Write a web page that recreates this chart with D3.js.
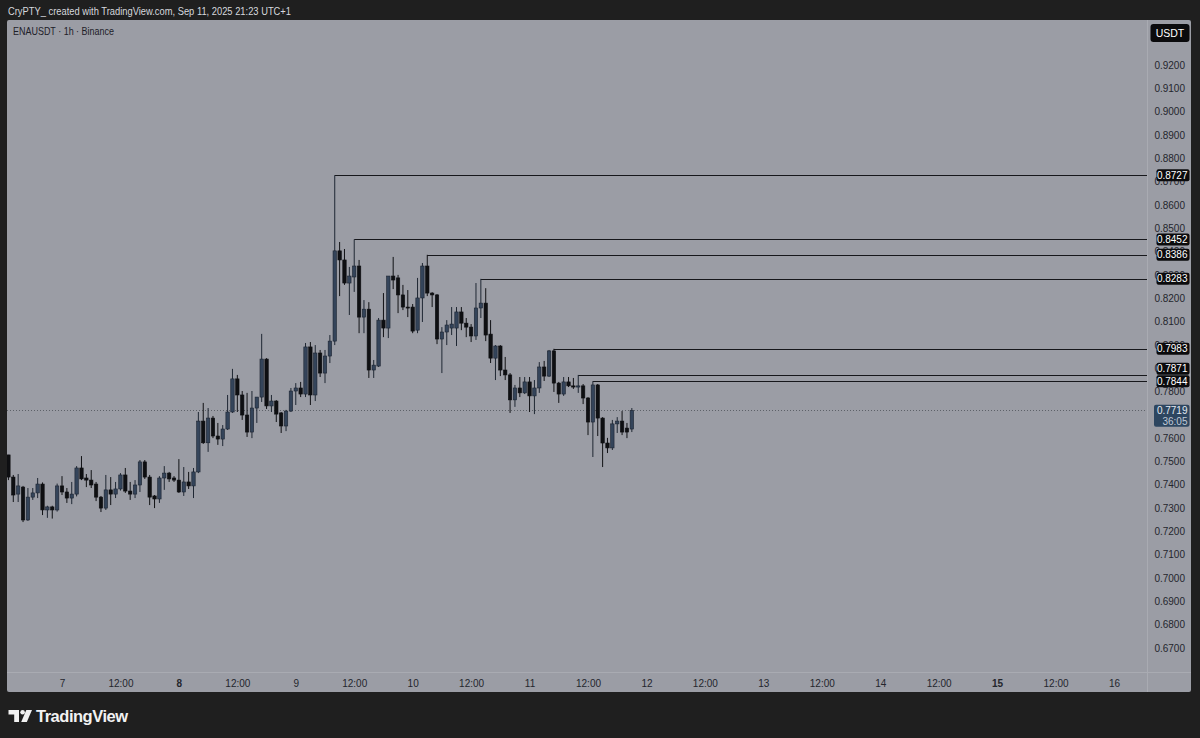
<!DOCTYPE html>
<html>
<head>
<meta charset="utf-8">
<script src="https://cdn.jsdelivr.net/npm/d3@7/dist/d3.min.js"></script>
<style>
  html, body { margin: 0; padding: 0; background: #1f1f1f; }
  svg { display: block; }
  text { font-family: "Liberation Sans", Arial, sans-serif; }
</style>
</head>
<body>
<svg id="chart" width="1200" height="738"></svg>
<script>
// ---------------- DATA ----------------
const symbolTitle = "ENAUSDT · 1h · Binance";
const headerText = "CryPTY_ created with TradingView.com, Sep 11, 2025 21:23 UTC+1";
const firstCandleUTC = Date.UTC(2025, 8, 6, 13); // Sep 6 13:00, hourly candles

const opens = [
0.7528,0.7433,0.7360,0.7390,0.7249,0.7347,0.7365,0.7403,0.7292,0.7305,
0.7292,0.7395,0.7369,0.7343,0.7360,0.7472,0.7429,0.7420,0.7403,0.7347,
0.7300,0.7378,0.7360,0.7382,0.7442,0.7373,0.7360,0.7399,0.7498,0.7433,
0.7352,0.7339,0.7429,0.7450,0.7429,0.7420,0.7369,0.7412,0.7395,0.7455,
0.7673,0.7580,0.7686,0.7609,0.7596,0.7639,0.7712,0.7854,0.7785,0.7699,
0.7626,0.7729,0.7776,0.7939,0.7738,0.7759,0.7708,0.7652,0.7716,0.7802,
0.7815,0.7789,0.7991,0.7785,0.7965,0.7879,0.7952,0.8016,0.8403,0.8364,
0.8265,0.8291,0.8338,0.8119,0.8153,0.7892,0.7909,0.8106,0.8072,0.8295,
0.8287,0.8214,0.8162,0.8162,0.8063,0.8201,0.8338,0.8222,0.8214,0.8025,
0.8055,0.8072,0.8072,0.8141,0.8093,0.8076,0.8038,0.8158,0.8179,0.8046,
0.7943,0.7995,0.7892,0.7871,0.7764,0.7815,0.7794,0.7841,0.7781,0.7815,
0.7905,0.7866,0.7974,0.7836,0.7789,0.7841,0.7824,0.7819,0.7824,0.7772,
0.7669,0.7828,0.7686,0.7579,0.7558,0.7661,0.7673,0.7643,0.7639];
const highs = [
0.7528,0.7442,0.7446,0.7395,0.7386,0.7386,0.7429,0.7410,0.7310,0.7310,
0.7405,0.7437,0.7386,0.7412,0.7480,0.7523,0.7446,0.7463,0.7412,0.7352,
0.7442,0.7433,0.7412,0.7450,0.7472,0.7412,0.7420,0.7506,0.7506,0.7442,
0.7356,0.7437,0.7480,0.7455,0.7437,0.7510,0.7476,0.7455,0.7472,0.7712,
0.7751,0.7729,0.7695,0.7665,0.7656,0.7785,0.7897,0.7871,0.7802,0.7794,
0.7802,0.7776,0.8047,0.7943,0.7785,0.7763,0.7712,0.7721,0.7815,0.7836,
0.7841,0.8008,0.8012,0.7999,0.7978,0.7978,0.8042,0.8727,0.8441,0.8411,
0.8334,0.8452,0.8364,0.8192,0.8183,0.7935,0.8115,0.8222,0.8295,0.8377,
0.8300,0.8257,0.8235,0.8175,0.8287,0.8351,0.8386,0.8226,0.8218,0.8076,
0.8106,0.8162,0.8162,0.8162,0.8115,0.8089,0.8265,0.8283,0.8243,0.8106,
0.7999,0.7999,0.7948,0.7879,0.7828,0.7862,0.7862,0.7862,0.7849,0.7926,
0.7931,0.7978,0.7983,0.7841,0.7862,0.7862,0.7858,0.7871,0.7832,0.7776,
0.7844,0.7832,0.7690,0.7601,0.7678,0.7690,0.7716,0.7665,0.7729];
const lows = [
0.7420,0.7326,0.7326,0.7240,0.7245,0.7335,0.7343,0.7270,0.7258,0.7255,
0.7285,0.7356,0.7322,0.7317,0.7350,0.7420,0.7390,0.7386,0.7330,0.7283,
0.7292,0.7313,0.7343,0.7375,0.7365,0.7335,0.7343,0.7369,0.7425,0.7313,
0.7300,0.7322,0.7378,0.7412,0.7412,0.7365,0.7352,0.7382,0.7343,0.7450,
0.7575,0.7541,0.7600,0.7571,0.7566,0.7635,0.7708,0.7712,0.7678,0.7605,
0.7600,0.7665,0.7755,0.7725,0.7712,0.7669,0.7622,0.7630,0.7712,0.7742,
0.7776,0.7776,0.7742,0.7759,0.7862,0.7836,0.7922,0.7999,0.8209,0.8257,
0.8128,0.8227,0.8050,0.8050,0.7858,0.7858,0.7905,0.8033,0.8029,0.8239,
0.8136,0.8149,0.8119,0.8050,0.8050,0.8098,0.8209,0.8162,0.8003,0.7879,
0.7999,0.8042,0.7995,0.8063,0.8033,0.8012,0.8021,0.8115,0.8016,0.7922,
0.7849,0.7866,0.7849,0.7708,0.7734,0.7776,0.7789,0.7712,0.7703,0.7794,
0.7845,0.7862,0.7798,0.7751,0.7781,0.7819,0.7811,0.7794,0.7746,0.7613,
0.7519,0.7609,0.7476,0.7536,0.7549,0.7622,0.7613,0.7600,0.7626];
const closes = [
0.7433,0.7356,0.7395,0.7249,0.7347,0.7365,0.7403,0.7292,0.7305,0.7292,
0.7395,0.7369,0.7343,0.7360,0.7472,0.7425,0.7420,0.7399,0.7347,0.7300,
0.7378,0.7360,0.7382,0.7442,0.7373,0.7360,0.7399,0.7498,0.7433,0.7347,
0.7339,0.7429,0.7450,0.7425,0.7420,0.7369,0.7412,0.7395,0.7455,0.7673,
0.7580,0.7686,0.7609,0.7596,0.7639,0.7712,0.7854,0.7785,0.7699,0.7626,
0.7729,0.7776,0.7939,0.7738,0.7759,0.7703,0.7652,0.7716,0.7802,0.7815,
0.7789,0.7991,0.7785,0.7965,0.7879,0.7952,0.8016,0.8403,0.8364,0.8265,
0.8295,0.8338,0.8119,0.8153,0.7892,0.7913,0.8106,0.8072,0.8295,0.8278,
0.8214,0.8162,0.8158,0.8059,0.8201,0.8338,0.8222,0.8214,0.8025,0.8055,
0.8085,0.8089,0.8141,0.8093,0.8076,0.8038,0.8158,0.8179,0.8042,0.7943,
0.7995,0.7892,0.7871,0.7764,0.7815,0.7794,0.7841,0.7781,0.7815,0.7905,
0.7866,0.7974,0.7836,0.7789,0.7841,0.7824,0.7819,0.7824,0.7772,0.7669,
0.7828,0.7686,0.7579,0.7558,0.7661,0.7673,0.7626,0.7626,0.7719];

// horizontal levels drawn from candle highs
const levelValues = [0.8727, 0.8452, 0.8386, 0.8283, 0.7983, 0.7871, 0.7844];
const levelCandleIndex = [67, 71, 86, 97, 112, 117, 120];

const lastPrice = 0.7719;
const countdown = "36:05";
const currency = "USDT";

const priceTicks = [0.67,0.68,0.69,0.70,0.71,0.72,0.73,0.74,0.75,0.76,0.77,0.78,0.79,
                    0.80,0.81,0.82,0.83,0.84,0.85,0.86,0.87,0.88,0.89,0.90,0.91,0.92];
const timeTickLabels = ["7","12:00","8","12:00","9","12:00","10","12:00","11","12:00",
                        "12","12:00","13","12:00","14","12:00","15","12:00","16"];
const boldTimeLabels = ["8","15"];

// ---------------- LAYOUT ----------------
const W = 1200, H = 738;
const panel = { x0: 7, x1: 1191, y0: 20, y1: 692 };
const plot = { x0: 7, x1: 1147, y0: 20, y1: 672 };
const narrow = "'Liberation Sans Narrow', 'Liberation Sans', Arial, sans-serif";

const svg = d3.select("#chart");

const x = d3.scaleUtc()
  .domain([new Date(Date.UTC(2025, 8, 7)), new Date(Date.UTC(2025, 8, 16))])
  .range([62, 1114]);
const y = d3.scaleLinear().domain([0.67, 0.92]).range([648, 65]);

// background
svg.append("rect").attr("width", W).attr("height", H).attr("fill", "#1f1f1f");
svg.append("rect")
  .attr("x", panel.x0).attr("y", panel.y0)
  .attr("width", panel.x1 - panel.x0).attr("height", panel.y1 - panel.y0)
  .attr("rx", 2).attr("fill", "#9b9da5");

// separators
svg.append("line").attr("x1", plot.x1 + 0.5).attr("x2", plot.x1 + 0.5)
  .attr("y1", panel.y0).attr("y2", panel.y1)
  .attr("stroke", "#a9abb2").attr("stroke-width", 1);
svg.append("line").attr("x1", panel.x0).attr("x2", panel.x1)
  .attr("y1", plot.y1 + 0.5).attr("y2", plot.y1 + 0.5)
  .attr("stroke", "#a9abb2").attr("stroke-width", 1);

// header
svg.append("text").attr("x", 8).attr("y", 14.5)
  .attr("fill", "#d6d8de").attr("font-size", 11.2).attr("font-family", narrow)
  .attr("textLength", 283).attr("lengthAdjust", "spacingAndGlyphs").text(headerText);
svg.append("text").attr("x", 13).attr("y", 35)
  .attr("fill", "#1e2028").attr("font-size", 10.8).attr("font-family", narrow)
  .attr("textLength", 101).attr("lengthAdjust", "spacingAndGlyphs").text(symbolTitle);

// clip
svg.append("clipPath").attr("id", "plotclip").append("rect")
  .attr("x", plot.x0).attr("y", plot.y0)
  .attr("width", plot.x1 - plot.x0).attr("height", plot.y1 - plot.y0);

const gPlot = svg.append("g").attr("clip-path", "url(#plotclip)");

// candles
const candles = opens.map((o, i) => ({
  t: new Date(firstCandleUTC + i * 3600e3), o, h: highs[i], l: lows[i], c: closes[i]
}));
const hourPx = x(new Date(Date.UTC(2025, 8, 7, 1))) - x(new Date(Date.UTC(2025, 8, 7, 0)));
const bw = hourPx * 0.7;

// last price dotted line
gPlot.append("line")
  .attr("x1", plot.x0).attr("x2", plot.x1)
  .attr("y1", Math.round(y(lastPrice)) + 0.5).attr("y2", Math.round(y(lastPrice)) + 0.5)
  .attr("stroke", "#5d6168").attr("stroke-width", 1).attr("stroke-dasharray", "1,2");

// level lines
levelValues.forEach((v, k) => {
  const cx = x(candles[levelCandleIndex[k]].t);
  gPlot.append("line")
    .attr("x1", cx).attr("x2", plot.x1)
    .attr("y1", Math.round(y(v)) + 0.5).attr("y2", Math.round(y(v)) + 0.5)
    .attr("stroke", "#16171b").attr("stroke-width", 1);
});

const upFill = "#34445a", upStroke = "#1c2431";
const dnFill = "#0e0f12", dnStroke = "#0e0f12";

const cg = gPlot.append("g").selectAll("g").data(candles).join("g");
cg.append("line")
  .attr("x1", d => x(d.t)).attr("x2", d => x(d.t))
  .attr("y1", d => y(d.h)).attr("y2", d => y(d.l))
  .attr("stroke", d => d.c >= d.o ? "#1f2733" : "#111215").attr("stroke-width", 1);
cg.append("rect")
  .attr("x", d => x(d.t) - bw / 2)
  .attr("width", bw)
  .attr("y", d => y(Math.max(d.o, d.c)))
  .attr("height", d => Math.max(1, Math.abs(y(d.o) - y(d.c))))
  .attr("fill", d => d.c >= d.o ? upFill : dnFill)
  .attr("stroke", d => d.c >= d.o ? upStroke : dnStroke)
  .attr("stroke-width", 0.6);

// price axis
const yAxis = d3.axisRight(y).tickValues(priceTicks).tickFormat(d3.format(".4f")).tickSize(0);
const gy = svg.append("g").attr("transform", `translate(${plot.x1},0)`).call(yAxis);
gy.select(".domain").remove();
gy.selectAll("text")
  .attr("x", 38).attr("text-anchor", "end")
  .attr("fill", "#24262d").attr("font-size", 10).attr("font-family", "Liberation Sans, Arial, sans-serif");

// time axis
const timeTickDates = timeTickLabels.map((_, k) => new Date(Date.UTC(2025, 8, 7) + k * 12 * 3600e3));
const xAxis = d3.axisBottom(x).tickValues(timeTickDates)
  .tickFormat((d, k) => timeTickLabels[k]).tickSize(0);
const gx = svg.append("g").attr("transform", `translate(0,${plot.y1})`).call(xAxis);
gx.select(".domain").remove();
gx.selectAll("text")
  .attr("y", 8).attr("dy", "0.71em")
  .attr("fill", "#24262d").attr("font-size", 10).attr("font-family", "Liberation Sans, Arial, sans-serif")
  .attr("font-weight", (d, k) => boldTimeLabels.includes(timeTickLabels[k]) ? "bold" : "normal");

// level labels on axis, stacked when they would collide
const labelH = 12.5;
const labelPos = levelValues.map(v => ({ v, cy: y(v) })).sort((a, b) => b.cy - a.cy);
for (let k = 1; k < labelPos.length; k++) {
  const below = labelPos[k - 1].cy;
  if (below - labelPos[k].cy < labelH) labelPos[k].cy = below - labelH;
}
labelPos.forEach(p => {
  svg.append("rect").attr("x", 1156.5).attr("y", p.cy - 6).attr("width", 33).attr("height", 12)
    .attr("rx", 2).attr("fill", "#0b0b0d");
  svg.append("text").attr("x", 1187.5).attr("y", p.cy + 3.6).attr("text-anchor", "end")
    .attr("fill", "#ffffff").attr("font-size", 10).text(d3.format(".4f")(p.v));
});

// last price label
const ly = y(lastPrice);
svg.append("rect").attr("x", 1154).attr("y", ly - 5.5).attr("width", 35.5).attr("height", 22)
  .attr("rx", 2).attr("fill", "#2d4660");
svg.append("text").attr("x", 1187.5).attr("y", ly + 4).attr("text-anchor", "end")
  .attr("fill", "#e4eaf2").attr("font-size", 10).text(d3.format(".4f")(lastPrice));
svg.append("text").attr("x", 1187.5).attr("y", ly + 14.5).attr("text-anchor", "end")
  .attr("fill", "#c0c9d6").attr("font-size", 10).text(countdown);

// currency badge
svg.append("rect").attr("x", 1150.5).attr("y", 24).attr("width", 39).attr("height", 18)
  .attr("rx", 3).attr("fill", "#0b0b0d");
svg.append("text").attr("x", 1170).attr("y", 36.5).attr("text-anchor", "middle")
  .attr("fill", "#ffffff").attr("font-size", 10.5).text(currency);

// TradingView logo
const logo = svg.append("g").attr("fill", "#f2f2f2");
logo.append("path").attr("d", "M8.5,710 H19 V722 H14.2 V714.6 H8.5 Z");
logo.append("circle").attr("cx", 22.6).attr("cy", 712.3).attr("r", 2.3);
logo.append("path").attr("d", "M26.3,710 H32 L26.8,722 H21.2 Z");
svg.append("text").attr("x", 36).attr("y", 722).attr("fill", "#f2f2f2")
  .attr("font-size", 16.5).attr("font-weight", "bold")
  .attr("font-family", "Inter, 'Liberation Sans', sans-serif")
  .attr("textLength", 92).text("TradingView");
</script>
</body>
</html>
